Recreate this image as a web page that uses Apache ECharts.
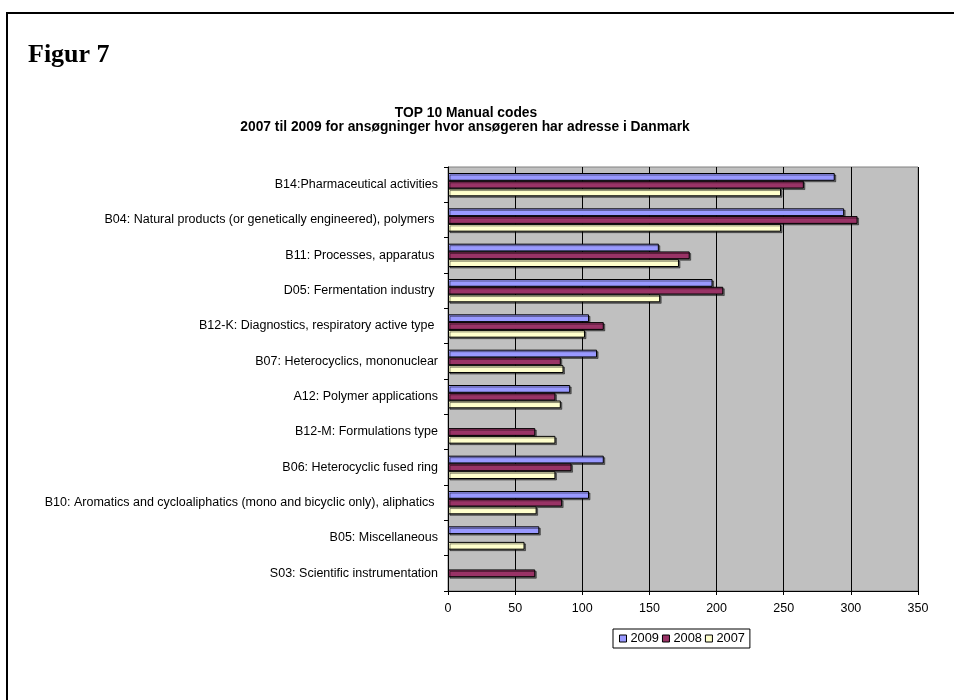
<!DOCTYPE html>
<html>
<head>
<meta charset="utf-8">
<script src="https://cdn.jsdelivr.net/npm/echarts@6/dist/echarts.min.js"></script>
<style>
html,body{margin:0;padding:0;background:#fff;}
#chart{width:954px;height:700px;}
</style>
</head>
<body>
<div id="chart"></div>
<script>
var categories = [
  'B14:Pharmaceutical activities',
  'B04: Natural products (or genetically engineered), polymers ',
  'B11: Processes, apparatus ',
  'D05: Fermentation industry ',
  'B12-K: Diagnostics, respiratory active type ',
  'B07: Heterocyclics, mononuclear',
  'A12: Polymer applications',
  'B12-M: Formulations type',
  'B06: Heterocyclic fused ring',
  'B10: Aromatics and cycloaliphatics (mono and bicyclic only), aliphatics ',
  'B05: Miscellaneous',
  'S03: Scientific instrumentation'
];
var values2009 = [288, 295, 157, 197, 105, 111, 91, null, 116, 105, 68, null];
var values2008 = [265, 305, 180, 205, 116, 84, 80, 65, 92, 85, null, 65];
var values2007 = [248, 248, 172, 158, 102, 86, 84, 80, 80, 66, 57, null];
var xTicks = [0, 50, 100, 150, 200, 250, 300, 350];

var FONT = '"Liberation Sans", Arial, sans-serif';
function mkSeries(name, data, color) {
  return {
    name: name,
    type: 'bar',
    data: data,
    barWidth: '22%',
    barGap: '0%',
    itemStyle: {
      color: color,
      borderColor: '#000',
      borderWidth: 1,
      shadowColor: 'rgba(0,0,0,0.45)',
      shadowOffsetX: 1.5,
      shadowOffsetY: 1.5,
      shadowBlur: 0
    },
    emphasis: { disabled: true },
    animation: false
  };
}

var chart = echarts.init(document.getElementById('chart'), null, { renderer: 'canvas' });
chart.setOption({
  animation: false,
  backgroundColor: '#ffffff',
  textStyle: { fontFamily: FONT },
  graphic: [
    { type: 'polyline', silent: true, shape: { points: [[7, 700], [7, 13], [954, 13]] },
      style: { stroke: '#000', lineWidth: 2, fill: null } },
    { type: 'text', silent: true, left: 28, top: 42,
      style: { text: 'Figur 7', font: 'bold 26px "Liberation Serif", "Times New Roman", serif', fill: '#000' } },
    { type: 'text', silent: true, x: 466, y: 113,
      style: { text: 'TOP 10 Manual codes', font: 'bold 13.8px ' + FONT, fill: '#000', align: 'center', verticalAlign: 'middle' } },
    { type: 'text', silent: true, x: 465, y: 127.5,
      style: { text: '2007 til 2009 for ansøgninger hvor ansøgeren har adresse i Danmark', font: 'bold 13.8px ' + FONT, fill: '#000', align: 'center', verticalAlign: 'middle' } }
  ],
  legend: {
    data: ['2009', '2008', '2007'],
    left: 613,
    top: 629,
    orient: 'horizontal',
    icon: 'rect',
    itemWidth: 7,
    itemHeight: 7,
    itemGap: 3,
    padding: [3, 5, 3, 6],
    borderColor: '#000',
    borderWidth: 1,
    selectedMode: false,
    itemStyle: { borderColor: '#000', borderWidth: 1, shadowBlur: 0, shadowOffsetX: 0, shadowOffsetY: 0 },
    textStyle: { fontFamily: FONT, fontSize: 12.8, color: '#000', padding: [1, 0, 0, -1] }
  },
  grid: {
    left: 448,
    top: 167,
    width: 470,
    height: 424,
    show: true,
    backgroundColor: '#C0C0C0',
    borderColor: '#808080',
    borderWidth: 1
  },
  xAxis: {
    type: 'value',
    min: 0,
    max: 350,
    interval: 50,
    axisLine: { show: true, lineStyle: { color: '#000', width: 1 } },
    axisTick: { show: true, length: 4, lineStyle: { color: '#000' } },
    axisLabel: {
      color: '#000', fontSize: 12.5, fontFamily: FONT, margin: 11,
      formatter: function (v) { return xTicks.indexOf(v) >= 0 ? String(v) : ''; }
    },
    splitLine: { show: true, lineStyle: { color: '#000', width: 1 } }
  },
  yAxis: {
    type: 'category',
    data: categories,
    inverse: true,
    axisLine: { show: true, lineStyle: { color: '#000', width: 1 } },
    axisTick: { show: true, length: 4, inside: false, lineStyle: { color: '#000' } },
    axisLabel: { color: '#000', fontSize: 12.5, fontFamily: FONT, margin: 10 },
    splitLine: { show: false }
  },
  series: [
    mkSeries('2009', values2009, '#9999FF'),
    mkSeries('2008', values2008, '#993366'),
    mkSeries('2007', values2007, '#FFFFCC')
  ]
});
</script>
</body>
</html>
